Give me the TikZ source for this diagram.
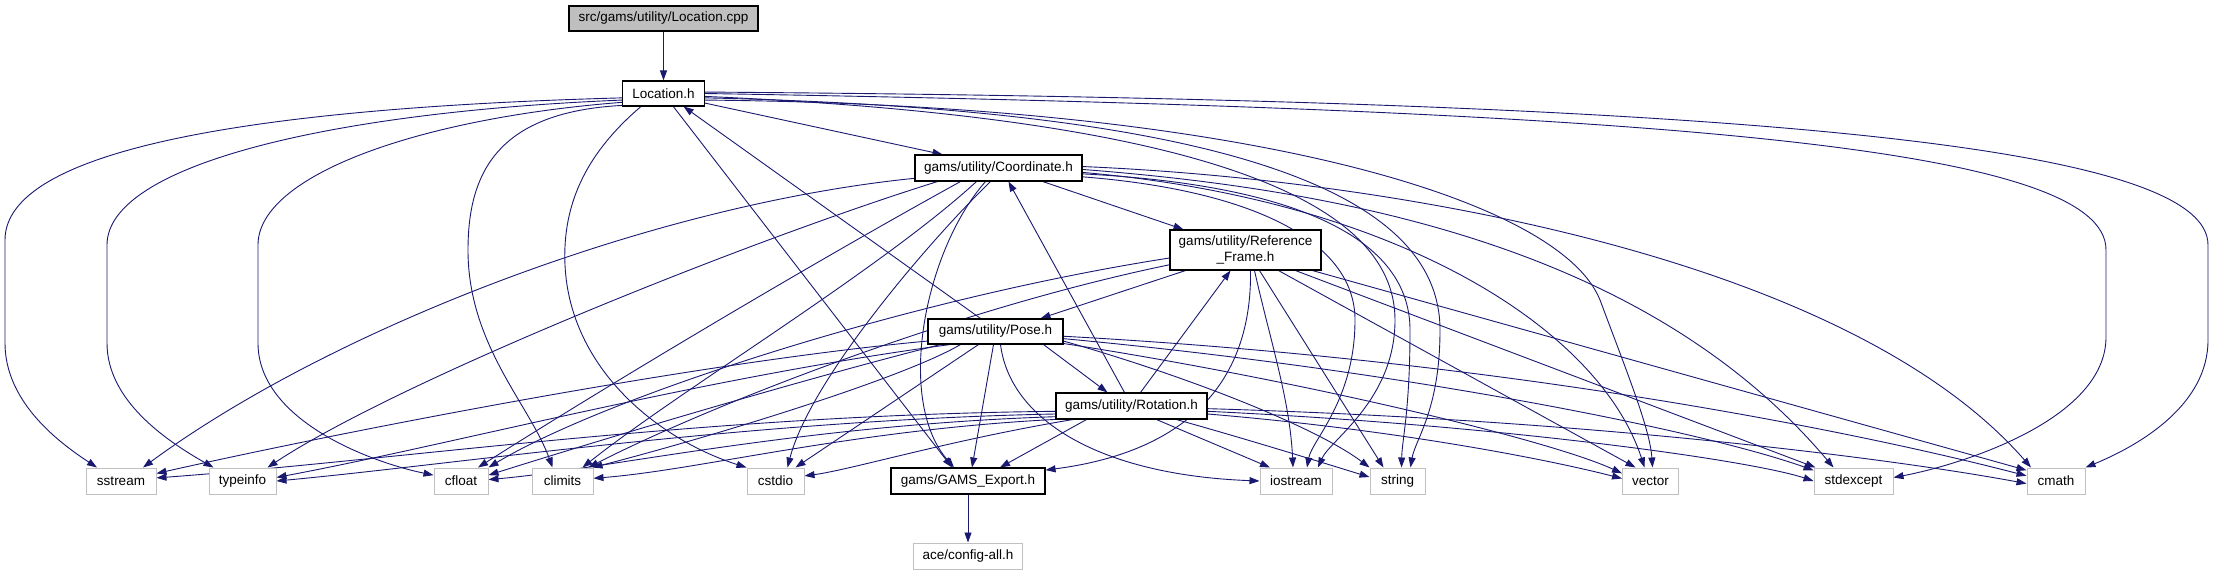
\documentclass[tikz,border=0pt]{standalone}
\usepackage{fontspec}
\setmainfont{Liberation Sans}
\usetikzlibrary{arrows.meta}
\definecolor{edgeblue}{RGB}{25,25,112}
\definecolor{extgray}{RGB}{192,192,192}
\definecolor{cppfill}{RGB}{191,191,191}
\pgfdeclarelayer{bg}
\pgfsetlayers{bg,main}
\newcommand{\fs}{\fontsize{13.5}{16}\selectfont}
\tikzset{
  nd/.style={draw=black, line width=1.1pt, fill=white, inner sep=0pt, minimum height=25pt, font=\fs, align=center},
  ext/.style={draw=extgray, line width=1pt, fill=white, inner sep=0pt, minimum height=26pt, font=\fs},
  e/.style={draw=edgeblue, line width=0.9pt, -{Triangle[length=10pt,width=7pt]}},
}
\begin{document}
\begin{tikzpicture}[x=1pt,y=-1pt]
\useasboundingbox (0,0) rectangle (2213,575);
% nodes
\node[nd, fill=cppfill, minimum width=189pt] (cpp) at (663.5,18.5) {src/gams/utility/Location.cpp};
\node[nd, minimum width=82pt] (loc) at (663.5,93.5) {Location.h};
\node[nd, minimum width=167pt, minimum height=26pt] (coord) at (998.5,168) {gams/utility/Coordinate.h};
\node[nd, minimum width=151pt, minimum height=40pt] (ref) at (1245.5,250) {gams/utility/Reference\\\_Frame.h};
\node[nd, minimum width=135pt] (pose) at (995.5,331.5) {gams/utility/Pose.h};
\node[nd, minimum width=151pt, minimum height=26pt] (rot) at (1131.5,406) {gams/utility/Rotation.h};
\node[nd, minimum width=154pt, minimum height=26pt] (gams) at (968,481) {gams/GAMS\_Export.h};
\node[ext, minimum width=109pt] (ace) at (968,556) {ace/config-all.h};
\node[ext, minimum width=70pt] (sstream) at (121,481) {sstream};
\node[ext, minimum width=67pt] (typeinfo) at (242.5,481) {typeinfo};
\node[ext, minimum width=54pt] (cfloat) at (461,481) {cfloat};
\node[ext, minimum width=61pt] (climits) at (562.5,481) {climits};
\node[ext, minimum width=57pt] (cstdio) at (775.5,481) {cstdio};
\node[ext, minimum width=72pt] (iostream) at (1296,481) {iostream};
\node[ext, minimum width=55pt] (string) at (1397.5,481) {string};
\node[ext, minimum width=56pt] (vector) at (1650.5,481) {vector};
\node[ext, minimum width=79pt] (stdexcept) at (1853.5,481) {stdexcept};
\node[ext, minimum width=58pt] (cmath) at (2056,481) {cmath};
\begin{pgfonlayer}{bg}
% Location.cpp
\draw[e] (cpp) -- (loc);
\draw[e] (gams) -- (ace);
% Location.h
\draw[e] (loc.186) .. controls (250,108) and (5,150) .. (5,240) -- (5,343) .. controls (5,400) and (55,440) .. ([xshift=-24pt]sstream.north);
\draw[e] (loc.189) .. controls (330,112) and (107,165) .. (107,245) -- (107,343) .. controls (107,400) and (165,440) .. ([xshift=-29pt]typeinfo.north);
\draw[e] (loc.192) .. controls (420,118) and (258,175) .. (258,245) -- (258,343) .. controls (258,420) and (370,462) .. (cfloat.168);
\draw[e] (loc.196) .. controls (500,112) and (468,170) .. (468,250) .. controls (468,345) and (530,405) .. ([xshift=-10pt]climits.north);
\draw[e] (loc.210) .. controls (590,150) and (562,200) .. (565,265) .. controls (570,370) and (660,440) .. (cstdio.north west);
\draw[e] (loc.-53) -- ([xshift=-16pt]gams.north);
\draw[e] (loc.-13) -- ([xshift=-56pt]coord.north);
\draw[e] (loc.-4) .. controls (1200,118) and (1395,200) .. (1395,320) .. controls (1395,400) and (1330,440) .. ([xshift=22pt]iostream.north);
\draw[e] (loc.-6) .. controls (1250,110) and (1440,200) .. (1440,330) .. controls (1440,410) and (1415,440) .. ([xshift=13pt]string.north);
\draw[e] (loc.-9) .. controls (1250,105) and (1560,200) .. (1600,300) .. controls (1630,380) and (1650,430) .. ([xshift=2pt]vector.north);
\draw[e] (loc.0) .. controls (1700,110) and (2106,150) .. (2106,250) -- (2106,337) .. controls (2106,420) and (1960,465) .. (stdexcept.5);
\draw[e] (loc.2) .. controls (1800,100) and (2208,150) .. (2208,245) -- (2208,340) .. controls (2208,405) and (2140,445) .. (cmath.north east);
% Coordinate.h
\draw[e] (coord.-17) -- ([xshift=-62pt]ref.north);
\draw[e] (coord.187) .. controls (650,205) and (330,330) .. ([xshift=22pt]sstream.north);
\draw[e] ([xshift=-61pt]coord.south) .. controls (750,240) and (400,380) .. ([xshift=25pt]typeinfo.north);
\draw[e] ([xshift=-38pt]coord.south) .. controls (800,270) and (600,390) .. ([xshift=17pt]cfloat.north);
\draw[e] ([xshift=-22pt]coord.south) .. controls (880,270) and (680,390) .. ([xshift=20pt]climits.north);
\draw[e] ([xshift=-8pt]coord.south) .. controls (930,240) and (810,380) .. ([xshift=12pt]cstdio.north);
\draw[e] ([xshift=-13pt]coord.south) .. controls (925,250) and (895,400) .. ([xshift=-14pt]gams.north);
\draw[e] (coord.-6) .. controls (1250,190) and (1355,240) .. (1355,320) .. controls (1355,400) and (1312,440) .. ([xshift=11pt]iostream.north);
\draw[e] (coord.-4) .. controls (1300,185) and (1410,240) .. (1410,330) .. controls (1410,410) and (1402,440) .. ([xshift=4pt]string.north);
\draw[e] (coord.-3) .. controls (1400,200) and (1600,330) .. ([xshift=-6pt]vector.north);
\draw[e] (coord.-1) .. controls (1350,190) and (1650,250) .. ([xshift=-20pt]stdexcept.north);
\draw[e] (coord.1) .. controls (1400,180) and (1850,260) .. ([xshift=-25pt]cmath.north);
% Reference_Frame.h
\draw[e] ([xshift=-60pt]ref.south) -- ([xshift=45pt]pose.north);
\draw[e] (ref.186) .. controls (900,300) and (600,400) .. (cfloat.north east);
\draw[e] (ref.191) .. controls (950,310) and (700,410) .. ([xshift=26pt]climits.north);
\draw[e] ([xshift=5pt]ref.south) .. controls (1252,370) and (1200,450) .. (gams.8);
\draw[e] ([xshift=9pt]ref.south) .. controls (1270,340) and (1290,400) .. ([xshift=-3pt]iostream.north);
\draw[e] ([xshift=14pt]ref.south) -- ([xshift=-14pt]string.north);
\draw[e] ([xshift=33pt]ref.south) -- ([xshift=-15pt]vector.north);
\draw[e] ([xshift=50pt]ref.south) -- ([xshift=-38pt]stdexcept.north);
\draw[e] ([xshift=67pt]ref.south) -- (cmath.160);
% Pose.h
\draw[e] ([xshift=-15pt]pose.north) -- (loc.-33);
\draw[e] ([xshift=48pt]pose.south) -- ([xshift=-24pt]rot.north);
\draw[e] (pose.188) .. controls (700,362) and (350,430) .. (sstream.12);
\draw[e] (pose.196) .. controls (700,378) and (450,445) .. (typeinfo.6);
\draw[e] ([xshift=-55pt]pose.south) .. controls (800,380) and (600,440) .. (cfloat.12);
\draw[e] ([xshift=-35pt]pose.south) .. controls (900,380) and (700,440) .. ([xshift=30pt]climits.north);
\draw[e] ([xshift=-17pt]pose.south) -- ([xshift=20pt]cstdio.north);
\draw[e] ([xshift=-2pt]pose.south) -- ([xshift=4pt]gams.north);
\draw[e] ([xshift=5pt]pose.south) .. controls (1010,420) and (1100,475) .. (iostream.west);
\draw[e] (pose.-8) .. controls (1200,380) and (1320,430) .. (string.north west);
\draw[e] (pose.-10) .. controls (1300,380) and (1550,440) .. (vector.165);
\draw[e] (pose.-6) .. controls (1400,370) and (1700,430) .. (stdexcept.165);
\draw[e] (pose.-4) .. controls (1500,360) and (1850,430) .. (cmath.170);
% Rotation.h
\draw[e] ([xshift=-7pt]rot.north) -- ([xshift=10pt]coord.south);
\draw[e] ([xshift=9pt]rot.north) -- ([xshift=-15pt]ref.south);
\draw[e] (rot.184) .. controls (700,415) and (400,460) .. (sstream.5);
\draw[e] (rot.186) .. controls (750,420) and (450,465) .. (typeinfo.0);
\draw[e] (rot.188) .. controls (800,425) and (600,470) .. (cfloat.3);
\draw[e] (rot.190) .. controls (850,430) and (700,470) .. (climits.5);
\draw[e] (rot.193) .. controls (950,440) and (850,470) .. (cstdio.10);
\draw[e] ([xshift=-45pt]rot.south) -- ([xshift=32pt]gams.north);
\draw[e] ([xshift=25pt]rot.south) -- ([xshift=-26pt]iostream.north);
\draw[e] ([xshift=45pt]rot.south) .. controls (1250,440) and (1330,465) .. (string.172);
\draw[e] (rot.-6) .. controls (1400,430) and (1550,460) .. (vector.175);
\draw[e] (rot.-4) .. controls (1500,425) and (1750,460) .. (stdexcept.180);
\draw[e] (rot.-2) .. controls (1600,420) and (1900,460) .. (cmath.185);
\end{pgfonlayer}
\end{tikzpicture}
\end{document}
